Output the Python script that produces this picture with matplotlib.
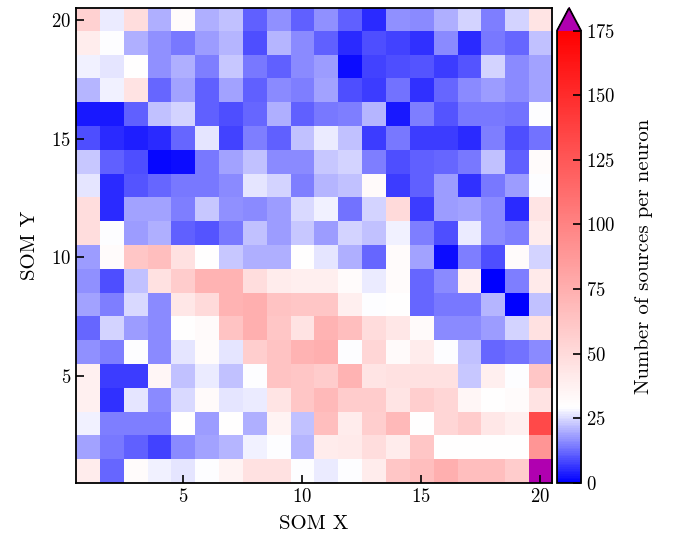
import matplotlib
matplotlib.use("Agg")
import matplotlib.pyplot as plt
import numpy as np
from matplotlib.colors import LinearSegmentedColormap

plt.rcParams["font.family"] = "cmr10"
plt.rcParams["mathtext.fontset"] = "cm"
plt.rcParams["axes.formatter.use_mathtext"] = True

# ── Data: sources per SOM neuron, rows listed from SOM Y = 20 (top) down to 1 ──
counts_top_down = [
    [55, 27, 48, 20, 31, 20, 22, 11, 17, 11, 17, 11, 5, 17, 16, 20, 24, 15, 24, 44],
    [39, 29, 20, 17, 14, 18, 21, 9, 21, 16, 11, 5, 9, 8, 6, 16, 5, 14, 12, 22],
    [28, 26, 30, 17, 20, 15, 23, 14, 11, 16, 18, 2, 8, 9, 10, 7, 10, 24, 16, 19],
    [21, 28, 45, 12, 19, 11, 19, 11, 16, 15, 19, 9, 7, 13, 6, 12, 16, 18, 16, 19],
    [3, 3, 11, 22, 24, 11, 9, 12, 20, 11, 14, 15, 21, 3, 15, 10, 14, 14, 13, 29],
    [9, 5, 4, 5, 12, 26, 8, 15, 11, 22, 27, 22, 7, 14, 7, 7, 5, 15, 9, 13],
    [23, 11, 9, 1, 2, 14, 19, 22, 16, 16, 23, 24, 15, 9, 11, 12, 14, 22, 11, 31],
    [26, 5, 10, 12, 14, 14, 16, 26, 24, 15, 21, 22, 32, 7, 11, 18, 6, 14, 18, 29],
    [48, 5, 19, 19, 15, 23, 17, 16, 18, 25, 28, 13, 24, 50, 7, 18, 19, 16, 5, 44],
    [48, 29, 18, 20, 11, 10, 14, 22, 18, 23, 18, 24, 22, 28, 15, 9, 27, 16, 15, 40],
    [18, 31, 61, 66, 46, 30, 23, 20, 20, 30, 26, 20, 12, 31, 19, 2, 15, 9, 31, 24],
    [17, 9, 22, 46, 58, 72, 72, 48, 40, 38, 38, 31, 27, 31, 12, 16, 38, 0, 15, 41],
    [19, 15, 25, 16, 43, 50, 72, 75, 63, 61, 61, 38, 29, 30, 12, 14, 14, 21, 0, 22],
    [12, 24, 18, 16, 30, 32, 63, 75, 61, 45, 72, 66, 49, 43, 32, 16, 16, 18, 24, 46],
    [17, 15, 29, 16, 26, 31, 26, 57, 63, 72, 75, 29, 52, 32, 40, 29, 22, 12, 13, 16],
    [37, 7, 7, 34, 22, 27, 22, 29, 63, 61, 58, 72, 44, 46, 46, 46, 23, 38, 29, 61],
    [37, 6, 26, 16, 25, 32, 26, 27, 44, 61, 69, 58, 58, 44, 57, 52, 34, 30, 31, 45],
    [28, 15, 15, 15, 30, 18, 30, 20, 36, 22, 66, 40, 57, 69, 30, 52, 58, 43, 38, 133],
    [19, 14, 11, 8, 16, 19, 21, 28, 29, 21, 40, 41, 48, 40, 61, 30, 30, 30, 30, 89],
    [40, 12, 31, 28, 26, 29, 36, 46, 46, 29, 27, 29, 40, 61, 66, 75, 66, 66, 58, 200],
]
x_ticks = [5, 10, 15, 20]
y_ticks = [5, 10, 15, 20]
cbar_ticks = [0, 25, 50, 75, 100, 125, 150, 175]

VMIN, VMAX, WHITE_AT = 0, 175, 29
OVER_COLOR = "#b000b0"
TICK_FS = 13.5
LABEL_FS = 15

counts = np.array(counts_top_down)[::-1]  # row 0 -> SOM Y = 1

cmap = LinearSegmentedColormap.from_list(
    "blue_white_red",
    [(0.0, "#0000ff"), (WHITE_AT / VMAX, "#ffffff"), (1.0, "#ff0000")],
)
cmap.set_over(OVER_COLOR)

fig = plt.figure(figsize=(6.76, 5.45), dpi=100)
ax = fig.add_axes([0.1125, 0.1138, 0.7045, 0.8716])
cax = fig.add_axes([0.8240, 0.1138, 0.0355, 0.8716])

im = ax.imshow(counts, origin="lower", cmap=cmap, vmin=VMIN, vmax=VMAX,
               extent=(0.5, 20.5, 0.5, 20.5), aspect="auto",
               interpolation="nearest")

ax.set_xticks(x_ticks)
ax.set_yticks(y_ticks)
ax.tick_params(direction="in", length=6, width=1.2, labelsize=TICK_FS)
for sp in ax.spines.values():
    sp.set_linewidth(1.3)
ax.set_xlabel("SOM X", fontsize=LABEL_FS, labelpad=7)
ax.set_ylabel("SOM Y", fontsize=LABEL_FS, labelpad=9)

cb = fig.colorbar(im, cax=cax, extend="max", extendfrac=0.05)
cb.set_ticks(cbar_ticks)
cb.ax.tick_params(direction="in", length=6, width=1.2, labelsize=TICK_FS)
cb.outline.set_linewidth(1.3)
cb.set_label("Number of sources per neuron", fontsize=LABEL_FS, labelpad=14)

fig.savefig("out.png", dpi=100)
